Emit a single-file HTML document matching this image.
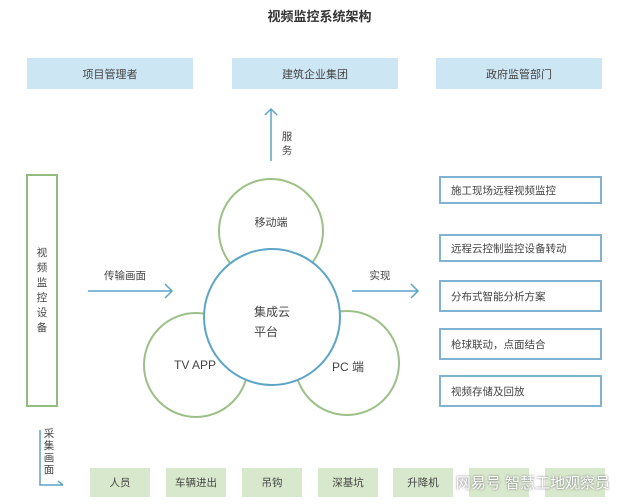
<!DOCTYPE html>
<html><head><meta charset="utf-8"><style>
body{margin:0;width:639px;height:504px;background:#fff;overflow:hidden;position:relative;font-family:"Liberation Sans","Noto Sans CJK SC",sans-serif;color:#444}
.a{position:absolute;box-sizing:border-box;display:flex;align-items:center;justify-content:center;font-size:11px}
.top{background:#cde6f4;height:31px;top:58px;width:166px}
.r{border:2px solid #7fb3d0;left:439px;width:163px;justify-content:flex-start;padding-left:10px;font-size:10.5px}
.b{background:#d8e8cc;top:468px;height:29px;width:60px;font-size:10.5px}
</style></head><body>
<div class="a" style="left:0;width:639px;top:6px;font-size:13px;font-weight:bold;color:#333">视频监控系统架构</div>
<div class="a top" style="left:27px">项目管理者</div>
<div class="a top" style="left:232px">建筑企业集团</div>
<div class="a top" style="left:436px">政府监管部门</div>
<div class="a" style="left:26px;top:174px;width:32px;height:233px;border:2px solid #93bb7e;flex-direction:column;font-size:10.5px;line-height:15px">视<br>频<br>监<br>控<br>设<br>备</div>
<div class="a r" style="top:176px;height:28px">施工现场远程视频监控</div>
<div class="a r" style="top:234px;height:28px">远程云控制监控设备转动</div>
<div class="a r" style="top:280px;height:32px">分布式智能分析方案</div>
<div class="a r" style="top:328px;height:32px">枪球联动，点面结合</div>
<div class="a r" style="top:375px;height:32px">视频存储及回放</div>
<svg style="position:absolute;left:0;top:0" width="639" height="504">
<g fill="#fff" stroke="#9cc088" stroke-width="2">
<circle cx="271" cy="231" r="52"/><circle cx="196" cy="365" r="52"/><circle cx="347" cy="363" r="52"/></g>
<circle cx="272" cy="317" r="68" fill="#fff" stroke="#5ca4c8" stroke-width="2"/>
<g stroke="#5ca4c8" stroke-width="1.5" fill="none">
<path d="M88 291H172M165 284L172 291L165 298"/>
<path d="M352 291H418M411 284L418 291L411 298"/>
<path d="M271 161V109M265 115L271 109L277 115"/>
<path d="M40 430V485H63M58 481L63 485"/>
</g>
</svg>
<div class="a" style="left:280px;top:130px;width:14px;flex-direction:column;font-size:10.5px;line-height:14px">服<br>务</div>
<div class="a" style="left:90px;top:268px;width:70px;font-size:10.5px">传输画面</div>
<div class="a" style="left:360px;top:268px;width:40px;font-size:10.5px">实现</div>
<div class="a" style="left:231px;top:214px;width:80px;font-size:11px">移动端</div>
<div class="a" style="left:232px;top:302px;width:80px;font-size:12px;line-height:20px;flex-direction:column">集成云<br>平台</div>
<div class="a" style="left:155px;top:358px;width:80px;font-size:12px">TV APP</div>
<div class="a" style="left:318px;top:358px;width:60px;font-size:12px">PC 端</div>
<div class="a" style="left:42px;top:428px;width:14px;flex-direction:column;font-size:10.5px;line-height:12px">采<br>集<br>画<br>面</div>
<div class="a b" style="left:90px">人员</div>
<div class="a b" style="left:166px">车辆进出</div>
<div class="a b" style="left:242px">吊钩</div>
<div class="a b" style="left:318px">深基坑</div>
<div class="a b" style="left:393px">升降机</div>
<div class="a b" style="left:469px"></div>
<div class="a b" style="left:545px"></div>
<div class="a" style="left:428px;top:472px;width:210px;font-size:15px;color:#fff;text-shadow:0 0 2px #666">网易号 智慧工地观察员</div>
</body></html>
